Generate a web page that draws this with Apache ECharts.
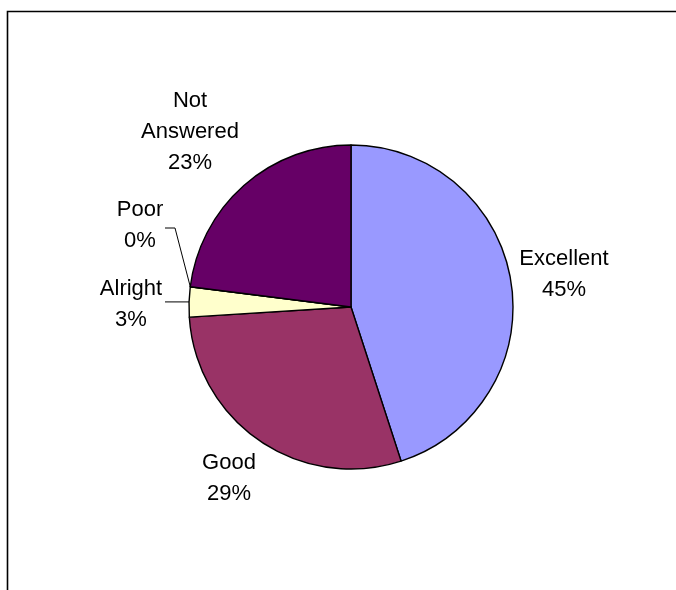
<!DOCTYPE html>
<html>
<head>
<meta charset="utf-8">
<style>
html,body{margin:0;padding:0;background:#fff;}
#chart{width:676px;height:590px;}
</style>
<script src="https://cdn.jsdelivr.net/npm/echarts@6/dist/echarts.min.js"></script>
</head>
<body>
<div id="chart"></div>
<script>
// ---- data ----
var categories = ['Excellent', 'Good', 'Alright', 'Poor', 'Not Answered'];
var percents = [45, 29, 3, 0, 23];

// ---- styles / layout (kept separate from data) ----
var colors = ['#9999FF', '#993366', '#FFFFCC', '#CCFFFF', '#660066'];
var labelText = ['Excellent', 'Good', 'Alright', 'Poor', 'Not\nAnswered'];
var labelAnchor = {
  'Excellent': [564, 274],
  'Good': [229, 478],
  'Alright': [131, 304],
  'Poor': [140, 225],
  'Not Answered': [190, 132]
};
var leaderTail = {
  'Alright': [[165, null]],
  'Poor': [[175, 228], [165, 228]]
};

var chart = echarts.init(document.getElementById('chart'), null, {renderer: 'canvas'});
var data = categories.map(function (c, i) {
  return {
    name: c,
    value: percents[i],
    itemStyle: {color: colors[i]},
    label: {formatter: labelText[i] + '\n{d}%'},
    labelLine: {show: !!leaderTail[c]}
  };
});

chart.setOption({
  animation: false,
  backgroundColor: '#ffffff',
  graphic: [{
    type: 'polyline',
    shape: {points: [[7.5, 590], [7.5, 11.5], [676, 11.5]]},
    style: {stroke: '#000', lineWidth: 1.6, fill: null}
  }],
  series: [{
    type: 'pie',
    center: [351, 307],
    radius: [0, 162],
    startAngle: 90,
    clockwise: true,
    avoidLabelOverlap: false,
    percentPrecision: 0,
    data: data,
    itemStyle: {borderColor: '#000', borderWidth: 1.4},
    label: {
      show: true,
      position: 'outside',
      fontFamily: 'Liberation Sans, Arial, sans-serif',
      fontSize: 22,
      lineHeight: 31,
      color: '#000',
      align: 'center',
      verticalAlign: 'middle'
    },
    labelLine: {
      length: 10, length2: 10,
      lineStyle: {color: '#000', width: 1}
    },
    emphasis: {disabled: true},
    labelLayout: function (params) {
      var name = categories[params.dataIndex];
      var a = labelAnchor[name];
      var res = {x: a[0], y: a[1], align: 'center', verticalAlign: 'middle'};
      var tail = leaderTail[name];
      if (tail && params.labelLinePoints) {
        var p0 = params.labelLinePoints[0];
        var pts = [[p0[0], p0[1]]];
        tail.forEach(function (t) { pts.push([t[0], t[1] == null ? p0[1] : t[1]]); });
        res.labelLinePoints = pts;
      }
      return res;
    }
  }]
});
</script>
</body>
</html>
